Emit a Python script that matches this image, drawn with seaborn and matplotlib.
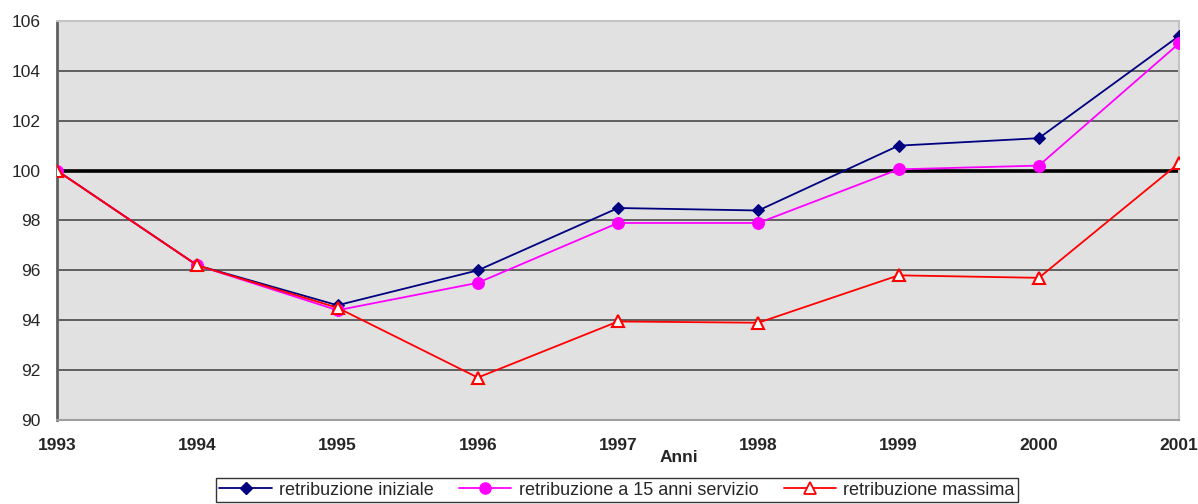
import pandas as pd
import numpy as np
import seaborn as sns
import matplotlib.pyplot as plt
from matplotlib.lines import Line2D

# Data (index, 1993 = 100)
anni = [1993, 1994, 1995, 1996, 1997, 1998, 1999, 2000, 2001]
retr_iniziale = [100, 96.2, 94.6, 96.0, 98.5, 98.4, 101.0, 101.3, 105.4]
retr_15_anni = [100, 96.2, 94.4, 95.5, 97.9, 97.9, 100.05, 100.2, 105.1]
retr_massima = [100, 96.2, 94.5, 91.7, 93.95, 93.9, 95.8, 95.7, 100.3]
y_ticks = [90, 92, 94, 96, 98, 100, 102, 104, 106]

sns.set_style("white")
plt.rcParams['font.family'] = ['Liberation Sans', 'DejaVu Sans']

df = pd.DataFrame({'anno': anni, 'iniziale': retr_iniziale,
                   '15anni': retr_15_anni, 'massima': retr_massima})

fig = plt.figure(figsize=(11.98, 5.04), dpi=100)
ax = fig.add_axes([0.0476, 0.1667, 0.9366, 0.7917])
ax.set_facecolor('#e1e1e1')

# horizontal grid
for y in y_ticks[1:]:
    if y == 100:
        ax.axhline(y, color='black', lw=2.6, zorder=1)
    else:
        ax.axhline(y, color='#3c3c3c', lw=1.1, zorder=1)

sns.lineplot(data=df, x='anno', y='iniziale', ax=ax, color='#000080', lw=1.3,
             marker='D', markersize=6, markeredgecolor='#000080', zorder=3)
sns.lineplot(data=df, x='anno', y='15anni', ax=ax, color='#ff00ff', lw=1.3,
             marker='o', markersize=8.5, markeredgecolor='#ff00ff', zorder=3)
sns.lineplot(data=df, x='anno', y='massima', ax=ax, color='#ff0000', lw=1.3,
             marker='^', markersize=8.5, markerfacecolor='white',
             markeredgecolor='#ff0000', markeredgewidth=1.5, zorder=4)

ax.set_xlim(1993, 2001)
ax.set_ylim(90, 106)
ax.set_xticks(anni)
ax.set_xticklabels([str(a) for a in anni], fontsize=12.5, fontweight='bold')
ax.set_yticks(y_ticks)
ax.set_yticklabels([str(v) for v in y_ticks], fontsize=12.5)
ax.tick_params(axis='y', length=0, pad=12)
ax.tick_params(axis='x', length=0, pad=13)
ax.set_ylabel('')
ax.set_xlabel('Anni', fontsize=12.5, fontweight='bold')
ax.xaxis.set_label_coords(0.554, -0.075)

for side in ['top', 'right']:
    ax.spines[side].set_color('#c4c4c4')
    ax.spines[side].set_linewidth(1.5)
ax.spines['left'].set_color('#606060')
ax.spines['left'].set_linewidth(2)
ax.spines['bottom'].set_color('#a0a0a0')
ax.spines['bottom'].set_linewidth(1.5)

handles = [
    Line2D([], [], color='#000080', lw=1.3, marker='D', markersize=6),
    Line2D([], [], color='#ff00ff', lw=1.3, marker='o', markersize=8),
    Line2D([], [], color='#ff0000', lw=1.3, marker='^', markersize=8,
           markerfacecolor='white', markeredgewidth=1.3),
]
labels = ['retribuzione iniziale', 'retribuzione a 15 anni servizio',
          'retribuzione massima']
leg = fig.legend(handles, labels, loc='lower center', bbox_to_anchor=(0.515, 0.0),
                 ncol=3, fontsize=13, frameon=True, fancybox=False,
                 handlelength=2.9, columnspacing=1.4, handletextpad=0.4,
                 borderpad=0.2, borderaxespad=0.1)
leg.get_frame().set_edgecolor('black')
leg.get_frame().set_linewidth(1.0)

fig.savefig('out.png', dpi=100)
